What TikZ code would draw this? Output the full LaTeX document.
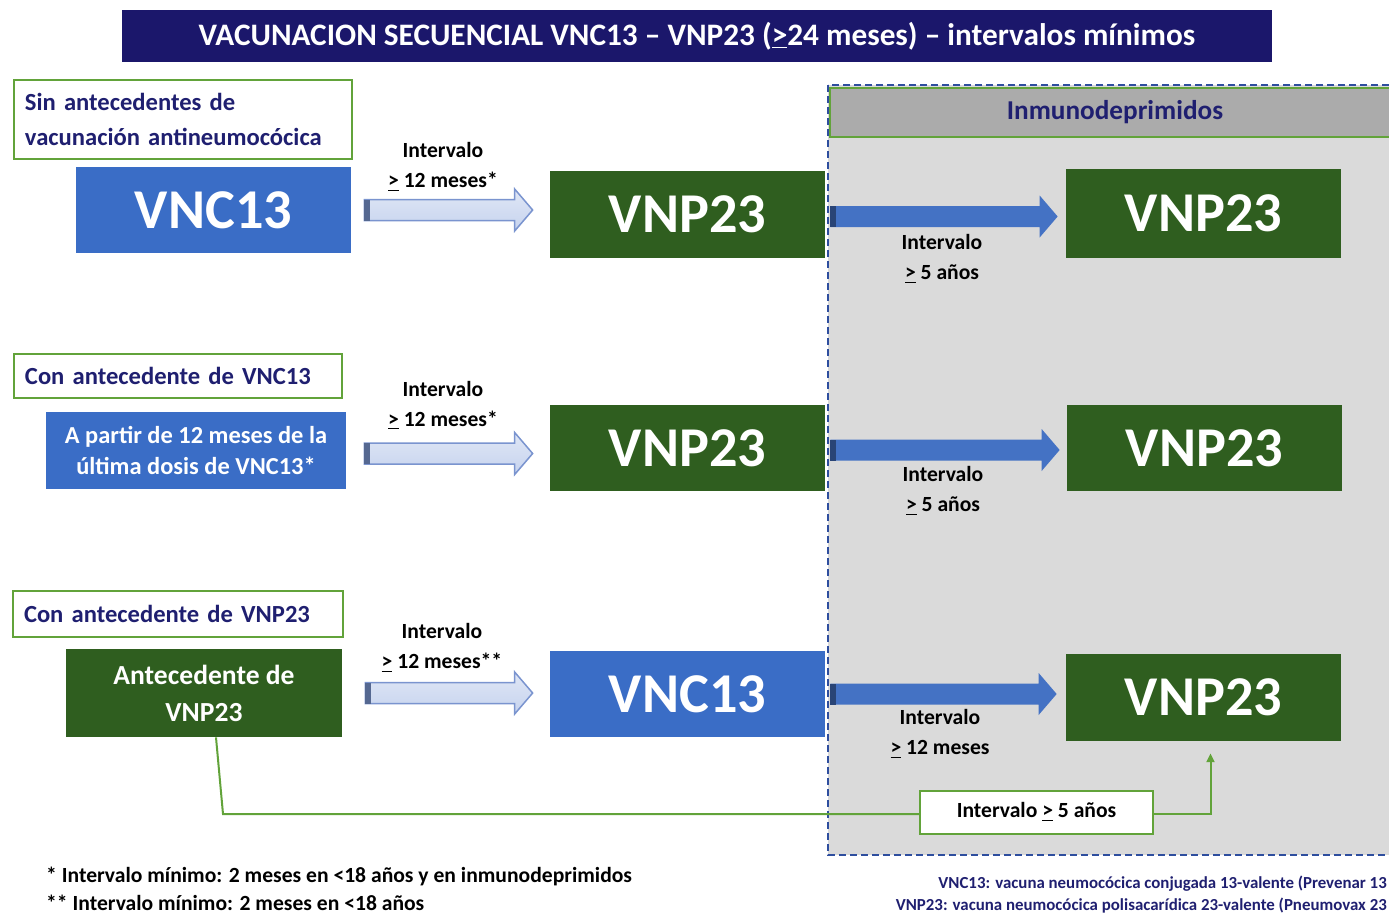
\documentclass[tikz,border=0pt]{standalone}
\usepackage{fontspec}
\setmainfont{Carlito}
\usetikzlibrary{positioning,calc,arrows.meta}
\definecolor{TitleNavy}{HTML}{1B176B}
\definecolor{TextNavy}{HTML}{1F1F70}
\definecolor{BoxBlue}{HTML}{3A6DC6}
\definecolor{BoxGreen}{HTML}{2F5E1F}
\definecolor{LineGreen}{HTML}{62A33A}
\definecolor{ZoneGray}{HTML}{DADADA}
\definecolor{HeadGray}{HTML}{ABABAB}
\definecolor{DashBlue}{HTML}{2E4E9E}
\definecolor{PaleBlue}{HTML}{C6D3EE}
\definecolor{EdgeBlue}{HTML}{7A94CF}
\definecolor{ArrowBlue}{HTML}{4472C4}
\newdimen\px \px=0.02cm
\newcommand\GeSign{\underline{>}}
\newcommand\BlockArrow[4]{%
  \path[#1] let \p1=(#2), \p2=(#3) in
    (\x1,\y1+10.5\px) -- (\x2-18\px,\y1+10.5\px) -- (\x2-18\px,\y1+21\px)
    -- (\x2,\y1) -- (\x2-18\px,\y1-21\px) -- (\x2-18\px,\y1-10.5\px)
    -- (\x1,\y1-10.5\px) -- cycle;
  \fill[#4] let \p1=(#2) in (\x1,\y1+10.5\px) rectangle (\x1+6\px,\y1-10.5\px);}
\begin{document}
\begin{tikzpicture}[x=0.02cm, y=-0.02cm,
    TitleBar/.style={fill=TitleNavy, text=white, minimum width=1150\px, minimum height=52\px, font=\bfseries\fontsize{17.8}{20}\selectfont},
    LabelBox/.style={draw=LineGreen, line width=2\px, fill=white, text=TextNavy, align=left, inner xsep=11\px, font=\bfseries\fontsize{14}{19.5}\selectfont},
    BlueBox/.style={fill=BoxBlue, text=white, minimum width=275\px, minimum height=86\px, font=\bfseries\fontsize{32}{34}\selectfont},
    GreenBox/.style={fill=BoxGreen, text=white, minimum width=275\px, minimum height=87\px, font=\bfseries\fontsize{32}{34}\selectfont},
    IntervalText/.style={align=center, font=\bfseries\fontsize{12.3}{17}\selectfont},
    HollowArrow/.style={draw=EdgeBlue, line width=1.5\px, top color=PaleBlue!55, bottom color=PaleBlue},
    SolidArrow/.style={fill=ArrowBlue},
    GreenLink/.style={draw=LineGreen, line width=2\px}]
  \clip (0,0) rectangle (1389,917);
  \node(Title) [TitleBar] at (697,36) {VACUNACION SECUENCIAL VNC13 – VNP23 (\GeSign24 meses) – intervalos mínimos};
  \path[fill=ZoneGray, draw=DashBlue, line width=2.5\px, dash pattern=on 7\px off 4\px] (828,85) rectangle (1400,855);
  \node(ZoneHead) [fill=HeadGray, draw=LineGreen, line width=1.5\px, minimum width=570\px, minimum height=49\px, text=TextNavy, font=\bfseries\fontsize{15.5}{17}\selectfont] at (1115,112.5) {Inmunodeprimidos};
  \node(LabelA) [LabelBox, text width=316\px, minimum height=79\px] at (183,119.5) {Sin antecedentes de\\vacunación antineumocócica};
  \node(LabelB) [LabelBox, text width=306\px, minimum height=44\px] at (178,376) {Con antecedente de VNC13};
  \node(LabelC) [LabelBox, text width=308\px, minimum height=46\px] at (178,614) {Con antecedente de VNP23};
  \node(VncA) [BlueBox] at (213.5,210) {VNC13};
  \node(VnpA) [GreenBox] at (687.5,214.5) {VNP23};
  \node(VnpB) [GreenBox, minimum height=89\px] at (1203.5,213.5) {VNP23};
  \node(StartB) [BlueBox, minimum width=300\px, minimum height=77\px, align=center, font=\bfseries\fontsize{13.9}{18}\selectfont] at (196,450.5) {A partir de 12 meses de la\\última dosis de VNC13*};
  \node(VnpC) [GreenBox, minimum height=86\px] at (687.5,448) {VNP23};
  \node(VnpD) [GreenBox, minimum height=86\px] at (1204.5,448) {VNP23};
  \node(PrevC) [GreenBox, minimum width=276\px, minimum height=88\px, align=center, font=\bfseries\fontsize{15.7}{21}\selectfont] at (204,693) {Antecedente de\\VNP23};
  \node(VncC) [BlueBox] at (687.5,694) {VNC13};
  \node(VnpE) [GreenBox] at (1203.5,697.5) {VNP23};
  \BlockArrow{HollowArrow}{[xshift=13\px]VncA.east}{[xshift=-17\px]VnpA.west}{EdgeBlue!70!black}
  \BlockArrow{HollowArrow}{[xshift=18\px,yshift=-3\px]StartB.east}{[xshift=-17\px]VnpC.west}{EdgeBlue!70!black}
  \BlockArrow{HollowArrow}{[xshift=23\px]PrevC.east}{[xshift=-17\px]VncC.west}{EdgeBlue!70!black}
  \BlockArrow{SolidArrow}{[xshift=5\px,yshift=-2\px]VnpA.east}{[xshift=-8\px]VnpB.west}{ArrowBlue!60!black}
  \BlockArrow{SolidArrow}{[xshift=5\px,yshift=-2\px]VnpC.east}{[xshift=-7\px]VnpD.west}{ArrowBlue!60!black}
  \BlockArrow{SolidArrow}{[xshift=5\px]VncC.east}{[xshift=-9\px]VnpE.west}{ArrowBlue!60!black}
  \node(GapA) [IntervalText] at (443,167) {Intervalo\\\GeSign\ 12 meses*};
  \node(GapB) [IntervalText] at (443,405.5) {Intervalo\\\GeSign\ 12 meses*};
  \node(GapC) [IntervalText] at (442,648) {Intervalo\\\GeSign\ 12 meses**};
  \node(LongA) [IntervalText] at (942,259) {Intervalo\\\GeSign\ 5 años};
  \node(LongB) [IntervalText] at (943,491) {Intervalo\\\GeSign\ 5 años};
  \node(LongC) [IntervalText] at (940,734) {Intervalo\\\GeSign\ 12 meses};
  \node(GapFive) [GreenLink, fill=white, minimum width=233\px, minimum height=43\px, font=\bfseries\fontsize{12.3}{15}\selectfont] at (1036.5,812) {Intervalo \GeSign\ 5 años};
  \coordinate(Bend) at (223,814);
  \draw[GreenLink] ([xshift=12\px]PrevC.south) -- (Bend) -- (GapFive.west |- Bend);
  \draw[GreenLink, -{Triangle[length=5pt,width=4.5pt]}] (GapFive.east |- Bend) -| ([xshift=7\px,yshift=-12\px]VnpE.south);
  \node(NoteA) [anchor=west, font=\bfseries\fontsize{12.3}{14}\selectfont] at (40,876) {* Intervalo mínimo: 2 meses en <18 años y en inmunodeprimidos};
  \node(NoteB) [anchor=west, font=\bfseries\fontsize{12.3}{14}\selectfont] at (40,903) {** Intervalo mínimo: 2 meses en <18 años};
  \node(KeyA) [anchor=east, text=TextNavy, font=\bfseries\fontsize{9.6}{12}\selectfont] at (1393,884) {VNC13: vacuna neumocócica conjugada 13-valente (Prevenar 13};
  \node(KeyB) [anchor=east, text=TextNavy, font=\bfseries\fontsize{9.6}{12}\selectfont] at (1393,906) {VNP23: vacuna neumocócica polisacarídica 23-valente (Pneumovax 23};
\end{tikzpicture}
\end{document}
